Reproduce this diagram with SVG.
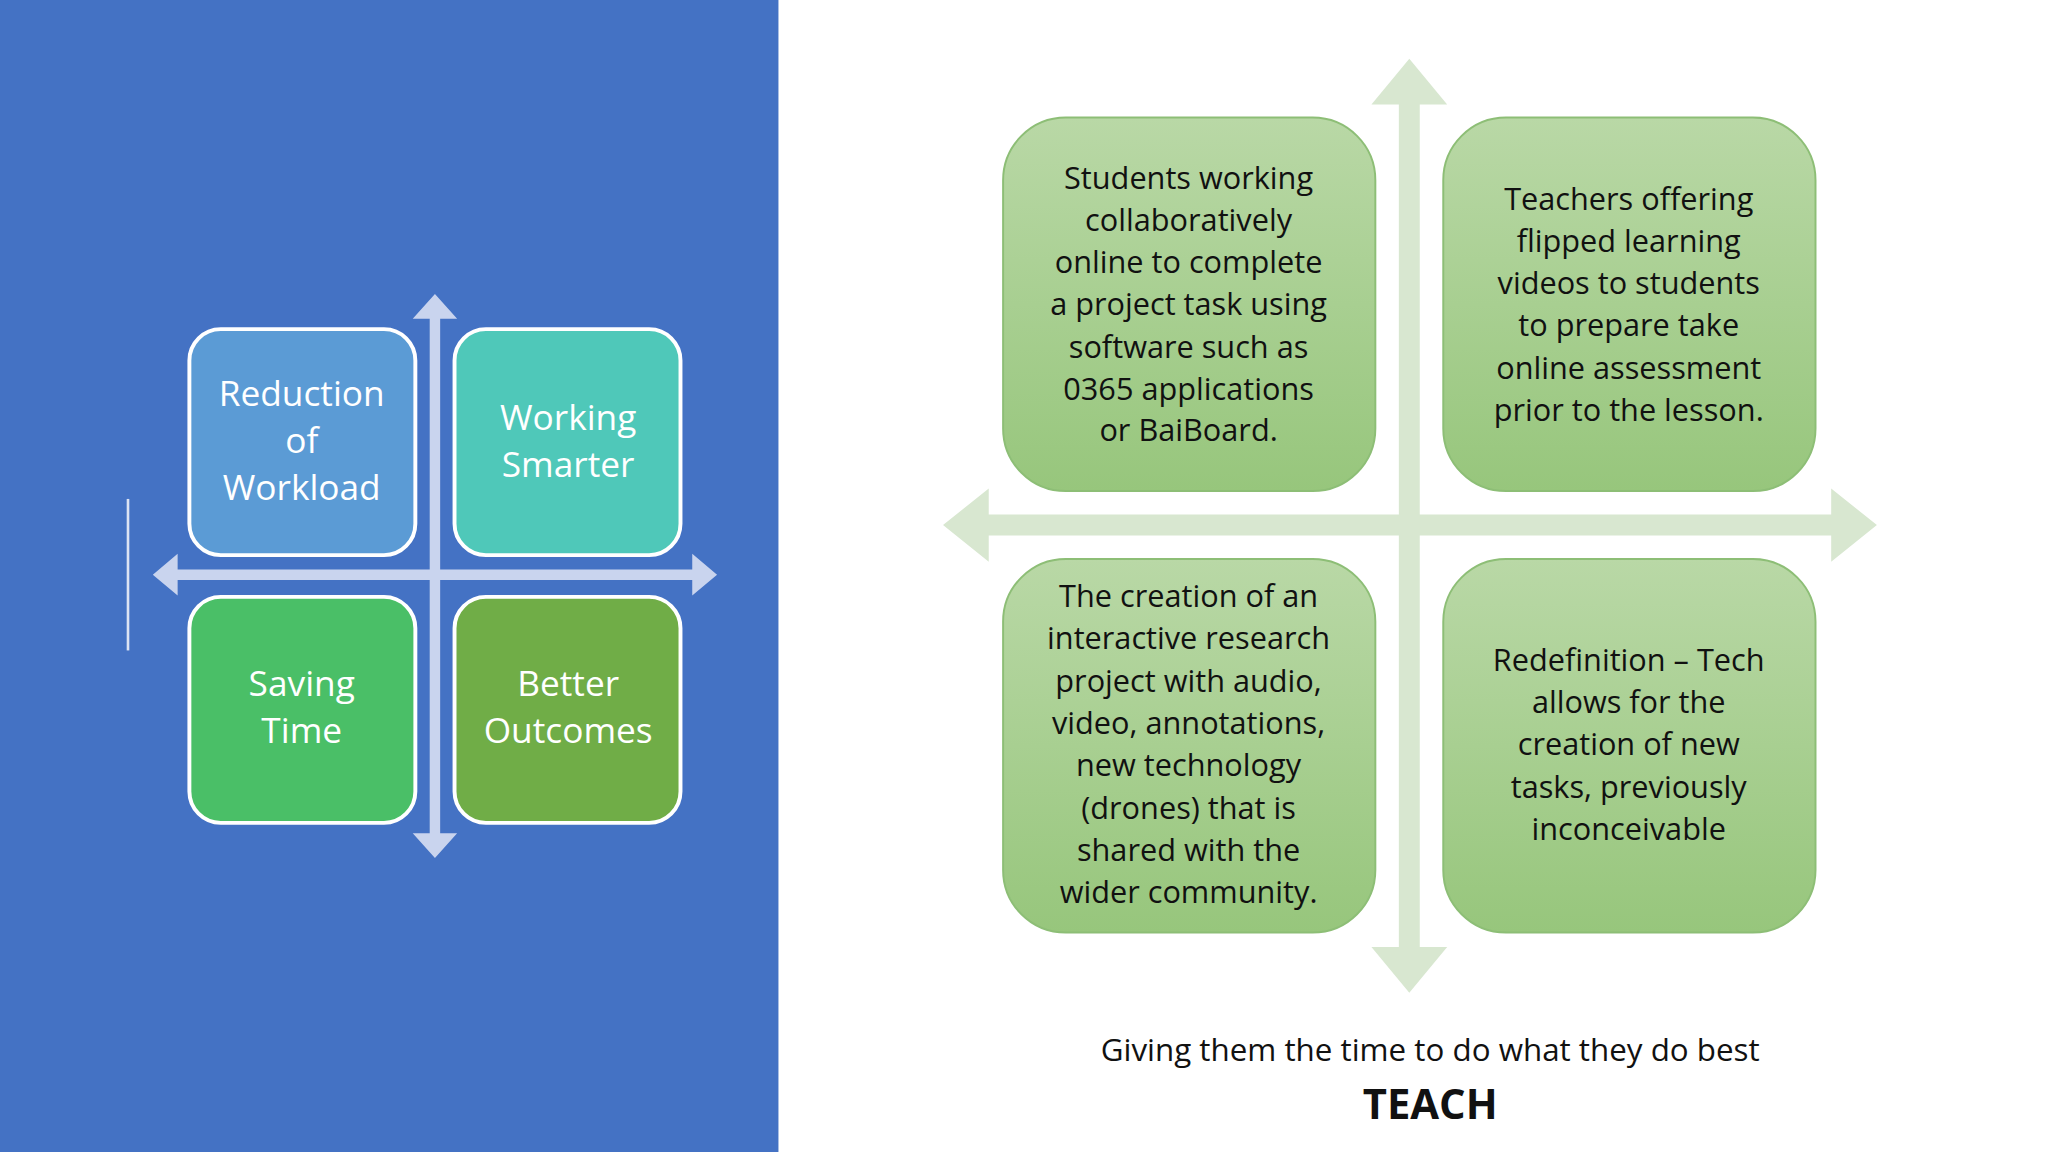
<svg xmlns="http://www.w3.org/2000/svg" width="2048" height="1152" viewBox="0 0 2048 1152">
<defs>
<linearGradient id="g" x1="0" y1="0" x2="0" y2="1"><stop offset="0" stop-color="#B9D8A6"/><stop offset="1" stop-color="#97C67C"/></linearGradient>
<style>
.lb{stroke:#fff;stroke-width:3}
.lt{font-family:"Open Sans","Noto Sans",sans-serif;font-size:27px;fill:#fff;text-anchor:middle}
.rb{fill:url(#g);stroke:#8DBE76;stroke-width:1.5}
.rt{font-family:"Open Sans","Noto Sans",sans-serif;font-size:23.5px;fill:#111;text-anchor:middle}
</style>
</defs>
<rect width="2048" height="1152" fill="#fff"/>
<g transform="scale(1.30612)">
<rect x="0" y="0" width="596" height="882" fill="#4472C4"/>
<g id="connectors">
<line x1="98" y1="382" x2="98" y2="498" stroke="#DCE3F3" stroke-width="2"/>
<polygon fill="#C9D4EE" points="329,244 316,244 333,225 350,244 337,244 337,638 350,638 333,657 316,638 329,638"/>
<polygon fill="#C9D4EE" points="136,436 136,424 117,440 136,456 136,444 530,444 530,456 549,440 530,424 530,436"/>
<polygon fill="#D8E7D0" points="1071,80 1050,80 1079,45 1108,80 1087,80 1087,725 1108,725 1079,760 1050,725 1071,725"/>
<polygon fill="#D8E7D0" points="757,394 757,374 722,402 757,430 757,410 1402,410 1402,430 1437,402 1402,374 1402,394"/>
</g>
<g id="n1"><rect class="lb" x="145" y="252" width="173" height="173" rx="24" fill="#5B9BD5"/>
<text class="lt" x="231" y="311">Reduction</text><text class="lt" x="231" y="347">of</text><text class="lt" x="231" y="383">Workload</text></g>
<g id="n2"><rect class="lb" x="348" y="252" width="173" height="173" rx="24" fill="#4FC8B9"/>
<text class="lt" x="435" y="329">Working</text><text class="lt" x="435" y="365">Smarter</text></g>
<g id="n3"><rect class="lb" x="145" y="457" width="173" height="173" rx="24" fill="#4ABF67"/>
<text class="lt" x="231" y="533">Saving</text><text class="lt" x="231" y="569">Time</text></g>
<g id="n4"><rect class="lb" x="348" y="457" width="173" height="173" rx="24" fill="#70AD47"/>
<text class="lt" x="435" y="533">Better</text><text class="lt" x="435" y="569">Outcomes</text></g>
<g id="n5"><rect class="rb" x="768" y="90" width="285" height="286" rx="48"/>
<text class="rt" x="910" y="145">Students working</text><text class="rt" x="910" y="177">collaboratively</text><text class="rt" x="910" y="209">online to complete</text><text class="rt" x="910" y="241">a project task using</text><text class="rt" x="910" y="274">software such as</text><text class="rt" x="910" y="306">0365 applications</text><text class="rt" x="910" y="338">or BaiBoard.</text></g>
<g id="n6"><rect class="rb" x="1105" y="90" width="285" height="286" rx="48"/>
<text class="rt" x="1247" y="161">Teachers offering</text><text class="rt" x="1247" y="193">flipped learning</text><text class="rt" x="1247" y="225">videos to students</text><text class="rt" x="1247" y="257">to prepare take</text><text class="rt" x="1247" y="290">online assessment</text><text class="rt" x="1247" y="322">prior to the lesson.</text></g>
<g id="n7"><rect class="rb" x="768" y="428" width="285" height="286" rx="48"/>
<text class="rt" x="910" y="465">The creation of an</text><text class="rt" x="910" y="497">interactive research</text><text class="rt" x="910" y="530">project with audio,</text><text class="rt" x="910" y="562">video, annotations,</text><text class="rt" x="910" y="594">new technology</text><text class="rt" x="910" y="627">(drones) that is</text><text class="rt" x="910" y="659">shared with the</text><text class="rt" x="910" y="691">wider community.</text></g>
<g id="n8"><rect class="rb" x="1105" y="428" width="285" height="286" rx="48"/>
<text class="rt" x="1247" y="514">Redefinition – Tech</text><text class="rt" x="1247" y="546">allows for the</text><text class="rt" x="1247" y="578">creation of new</text><text class="rt" x="1247" y="611">tasks, previously</text><text class="rt" x="1247" y="643">inconceivable</text></g>
<text x="1095" y="812" font-family="Open Sans, Noto Sans, sans-serif" font-size="24" fill="#111" text-anchor="middle">Giving them the time to do what they do best</text>
<text x="1095" y="857" font-family="Open Sans, Noto Sans, sans-serif" font-size="32" font-weight="bold" fill="#111" text-anchor="middle">TEACH</text>
</g>
</svg>
